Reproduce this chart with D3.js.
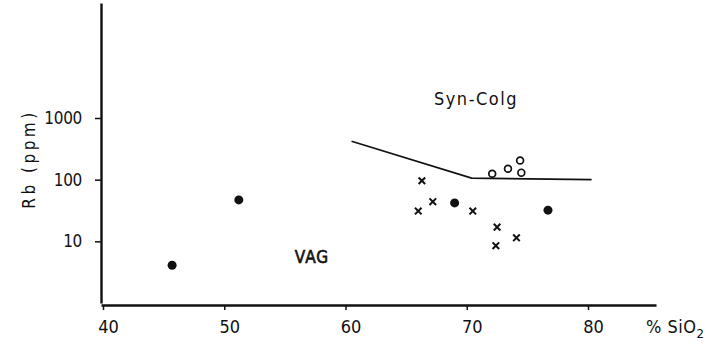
<!DOCTYPE html>
<html>
<head>
<meta charset="utf-8">
<script src="https://cdn.jsdelivr.net/npm/d3@7"></script>
<style>
  body { margin: 0; background: #fff; }
  svg { display: block; }
  text { font-family: "DejaVu Sans Condensed", "DejaVu Sans", sans-serif; font-stretch: condensed; fill: #111; }
</style>
</head>
<body>
<div id="canvas"></div>
<script>
// data (SiO2 %, Rb ppm)
const xTicks = [40, 50, 60, 70, 80];
const yTicks = [10, 100, 1000];
const boundary = [[60.5, 420], [70.4, 106], [80.3, 100]];
const filledDots = [[45.7, 4.1], [51.2, 47], [69.0, 42], [76.7, 32]];
const openCircles = [[72.1, 125], [73.4, 150], [74.4, 204], [74.5, 130]];
const crosses = [[66.3, 96], [67.2, 44], [66.0, 31], [70.5, 31], [72.5, 17], [74.1, 11.4], [72.4, 8.5]];

const w = 724, h = 346;
const fontStack = "'DejaVu Sans Condensed', 'DejaVu Sans', sans-serif";

const svg = d3.select("#canvas")
    .append("svg")
    .attr("width", w)
    .attr("height", h);

// scales
const x = d3.scaleLinear().domain([40, 80]).range([103, 588]);
const y = d3.scaleLog().domain([1, 1000]).range([303, 118]);

const axisLeftX = 101, axisBottomY = 305;

// x axis
const xAxisScale = x.copy().domain([x.invert(axisLeftX), x.invert(656)]).range([axisLeftX, 656]);
const gx = svg.append("g")
    .attr("transform", "translate(0," + axisBottomY + ")")
    .call(d3.axisBottom(xAxisScale).tickValues(xTicks).tickSize(5).tickSizeOuter(0).tickPadding(10));
gx.select(".domain").attr("stroke", "#111").attr("stroke-width", 2.4);
gx.selectAll(".tick line").attr("stroke", "#111").attr("stroke-width", 1.5);
gx.selectAll(".tick text")
    .attr("font-size", 18)
    .attr("dx", 5)
    .attr("fill", "#111")
    .style("font-family", fontStack);

// y axis
const yAxisScale = y.copy().domain([1, y.invert(3)]).range([303, 3]);
const gy = svg.append("g")
    .attr("transform", "translate(" + axisLeftX + ",0)")
    .call(d3.axisLeft(yAxisScale).tickValues(yTicks).tickFormat(d3.format("d")).tickSize(6).tickSizeOuter(0).tickPadding(13));
gy.select(".domain").attr("stroke", "#111").attr("stroke-width", 2.4);
gy.selectAll(".tick line").attr("stroke", "#111").attr("stroke-width", 1.5);
gy.selectAll(".tick text")
    .attr("font-size", 17)
    .attr("letter-spacing", -0.3)
    .attr("fill", "#111")
    .style("font-family", fontStack);

// field boundary
svg.append("path")
    .datum(boundary)
    .attr("d", d3.line().x(d => x(d[0])).y(d => y(d[1])))
    .attr("fill", "none")
    .attr("stroke", "#111")
    .attr("stroke-width", 1.7);

// filled dots
svg.selectAll(".dot")
    .data(filledDots)
    .enter().append("circle")
    .attr("cx", d => x(d[0]))
    .attr("cy", d => y(d[1]))
    .attr("r", 4.5)
    .attr("fill", "#111");

// open circles
svg.selectAll(".ring")
    .data(openCircles)
    .enter().append("circle")
    .attr("cx", d => x(d[0]))
    .attr("cy", d => y(d[1]))
    .attr("r", 3.4)
    .attr("fill", "none")
    .attr("stroke", "#111")
    .attr("stroke-width", 1.7);

// crosses
const cs = 3.3;
svg.selectAll(".cross")
    .data(crosses)
    .enter().append("path")
    .attr("d", d => {
        const cx = x(d[0]), cy = y(d[1]);
        return "M" + (cx - cs) + "," + (cy - cs) + "L" + (cx + cs) + "," + (cy + cs) +
               "M" + (cx - cs) + "," + (cy + cs) + "L" + (cx + cs) + "," + (cy - cs);
    })
    .attr("stroke", "#111")
    .attr("stroke-width", 2);

// field labels
svg.append("text")
    .attr("x", 476).attr("y", 105)
    .attr("text-anchor", "middle")
    .attr("font-size", 18)
    .attr("letter-spacing", 1.5)
    .text("Syn-Colg");

svg.append("text")
    .attr("x", 312).attr("y", 263)
    .attr("text-anchor", "middle")
    .attr("font-size", 17)
    .attr("stroke", "#111")
    .attr("stroke-width", 0.6)
    .attr("letter-spacing", 1)
    .text("VAG");

// axis titles
svg.append("text")
    .attr("transform", "translate(35,159) rotate(-90)")
    .attr("text-anchor", "middle")
    .attr("font-size", 17)
    .attr("letter-spacing", 3.5)
    .attr("xml:space", "preserve")
    .text("Rb (ppm)");

const xt = svg.append("text")
    .attr("x", 646).attr("y", 333)
    .attr("font-size", 18)
    .attr("letter-spacing", 0.5);
xt.append("tspan").text("% SiO");
xt.append("tspan").attr("dy", 5).attr("font-size", 13).text("2");
</script>
</body>
</html>
